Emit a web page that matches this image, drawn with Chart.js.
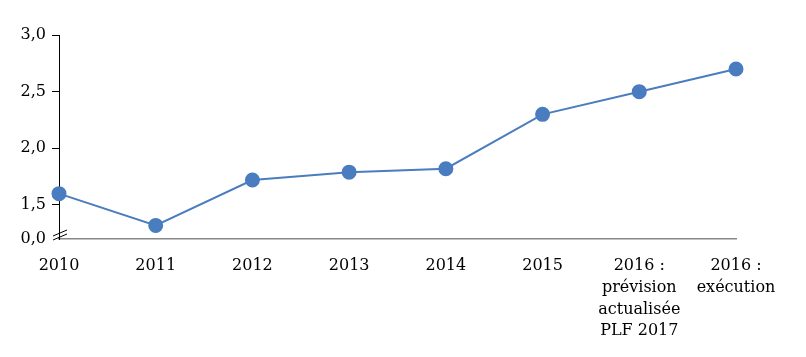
<!DOCTYPE html>
<html><head><meta charset="utf-8">
<script src="https://cdn.jsdelivr.net/npm/chart.js@4"></script>
<style>html,body{margin:0;padding:0;background:#fff}#c{display:block}</style>
</head><body>
<canvas id="c" width="806" height="357"></canvas>
<script>
const categories = [["2010"],["2011"],["2012"],["2013"],["2014"],["2015"],["2016 :","prévision","actualisée","PLF 2017"],["2016 :","exécution"]];
const values = [1.60, 1.32, 1.72, 1.79, 1.82, 2.30, 2.50, 2.70];
const yTicks = [1.2, 1.5, 2.0, 2.5, 3.0];
const yTickLabels = ["0,0", "1,5", "2,0", "2,5", "3,0"];
const yMin = 1.2, yMax = 3.0;

const FONT = {family: "'DejaVu Serif', serif", size: 16, lineHeight: 1.36};
const BLUE = '#4a7dbf';

const breakPlugin = {
  id: 'axisBreak',
  afterDraw(chart) {
    const y = chart.scales.y;
    const ctx = chart.ctx;
    const x0 = y.right;
    const py = y.getPixelForValue(yMin);
    ctx.save();
    ctx.strokeStyle = '#000';
    ctx.lineWidth = 1;
    ctx.beginPath();
    ctx.moveTo(x0 - 6, py - 3); ctx.lineTo(x0 + 8, py - 9);
    ctx.moveTo(x0 - 6, py + 1); ctx.lineTo(x0 + 8, py - 5);
    ctx.stroke();
    ctx.restore();
  }
};

new Chart(document.getElementById('c'), {
  type: 'line',
  data: {
    labels: categories,
    datasets: [{
      data: values,
      borderColor: BLUE,
      backgroundColor: BLUE,
      borderWidth: 2,
      pointRadius: 6.5,
      pointHoverRadius: 6.5,
      pointBackgroundColor: BLUE,
      pointBorderColor: BLUE,
      tension: 0
    }]
  },
  options: {
    responsive: false,
    animation: false,
    events: [],
    layout: {padding: {left: 0, right: 70, top: 35, bottom: 0}},
    plugins: {legend: {display: false}, tooltip: {enabled: false}},
    scales: {
      x: {
        offset: false,
        grid: {display: false},
        border: {color: '#888', width: 1.5},
        ticks: {color: '#000', font: FONT, padding: 8, maxRotation: 0, autoSkip: false},
        afterFit(s) { s.height = 118; }
      },
      y: {
        min: yMin, max: yMax,
        afterBuildTicks(s) { s.ticks = yTicks.map(v => ({value: v})); },
        grid: {drawOnChartArea: false, tickLength: 7, tickColor: c => (c.tick && c.tick.value === yMin) ? 'rgba(0,0,0,0)' : '#000'},
        border: {color: '#000', width: 1},
        ticks: {
          color: '#000', font: FONT, padding: 6,
          callback(v) { const i = yTicks.indexOf(v); return i >= 0 ? yTickLabels[i] : ''; }
        },
        afterFit(s) { s.width = 59; }
      }
    }
  },
  plugins: [breakPlugin]
});
</script>
</body></html>
